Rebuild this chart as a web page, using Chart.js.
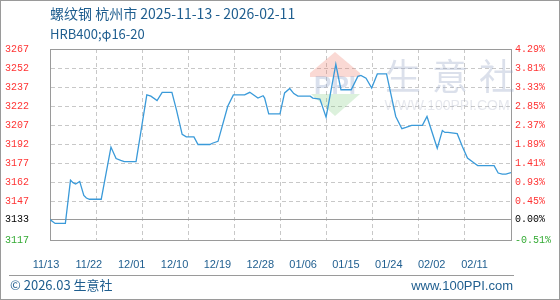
<!DOCTYPE html>
<html>
<head>
<meta charset="utf-8">
<script src="https://cdn.jsdelivr.net/npm/chart.js@4"></script>
<style>
html, body { margin: 0; padding: 0; background: #fff; }
#wrap { position: relative; width: 560px; height: 300px; overflow: hidden; font-family: "Noto Sans CJK SC", "Liberation Sans", sans-serif; }
#chart { position: absolute; left: 0; top: 0; }
#frame { position: absolute; left: 0; top: 0; width: 558px; height: 298px; border: 1px solid #9a9a9a; pointer-events: none; }
.t { position: absolute; color: #1f5e8f; white-space: nowrap; font-size: 13px; line-height: 16px; }
#title { left: 50px; top: 5px; font-size: 14px; }
#sub { left: 50px; top: 26px; }
#rule { position: absolute; left: 9px; top: 275px; width: 505px; height: 1px; background: #9a9a9a; }
#copy { left: 10px; top: 277px; }
#site { right: 47px; top: 278px; font-family: "Liberation Sans", sans-serif; }
</style>
</head>
<body>
<div id="wrap">
  <canvas id="chart" width="560" height="300"></canvas>
  <div class="t" id="title">螺纹钢 杭州市 2025-11-13 - 2026-02-11</div>
  <div class="t" id="sub">HRB400;φ16-20</div>
  <div id="rule"></div>
  <div class="t" id="copy">© 2026.03 生意社</div>
  <div class="t" id="site">www.100PPI.com</div>
  <div id="frame"></div>
</div>
<script>
// 価格データ (2025-11-13 からの日数, 元/吨)
const days = [0, 1, 3, 4, 4.5, 5, 5.8, 6.6, 7.1, 7.7,
  10, 11.9, 12.9, 13.8, 14.5, 16.8, 18.9, 19.7, 20.9, 21.9,
  23.8, 24.7, 25.8, 26.6, 28.1, 28.9, 31.2, 31.7, 32.8, 34.7,
  35.8, 38, 39, 40.6, 41.6, 41.9, 42.7, 44.9, 45.8, 46.8,
  47.6, 48.4, 50.8, 51.3, 52.7, 53.9, 55.8, 56.8, 58.8, 60.1,
  60.7, 61.7, 62.8, 63.9, 65.7, 67.5, 68.7, 69.5, 70.6, 72.7,
  73.6, 75.6, 76.6, 77.1, 77.7, 79.5, 80.5, 81.5, 82.8, 83.5,
  86.7, 87.5, 88.3, 89, 90];
const prices = [3133, 3130, 3130, 3164, 3162, 3161, 3163, 3152, 3150, 3149,
  3149, 3190, 3181, 3179.5, 3178.5, 3178.5, 3231, 3230, 3226.5, 3233,
  3233, 3219, 3200, 3198, 3198, 3192, 3192, 3193, 3194.5, 3222,
  3231, 3231, 3233, 3228.5, 3230.3, 3228.5, 3216, 3216, 3232.5, 3236,
  3232, 3230, 3230, 3228.5, 3227.7, 3213.5, 3255, 3235, 3235, 3245.5,
  3246.3, 3244, 3236.3, 3247.4, 3247.4, 3214, 3204.4, 3205.4, 3207, 3207,
  3214, 3189, 3203, 3201.5, 3201.5, 3200.5, 3190.5, 3181.4, 3177.5, 3175.4,
  3175.4, 3169.6, 3168.8, 3168.8, 3170];

// 軸の目盛り
const gridDays = [0, 9, 18, 27, 36, 45, 54, 63, 72, 81, 90];
const dateLabels = ['11/13', '11/22', '12/01', '12/10', '12/19', '12/28', '01/06', '01/15', '01/24', '02/02', '02/11'];
const priceTicks = [3117, 3133, 3147, 3162, 3177, 3192, 3207, 3222, 3237, 3252, 3267];
const pctLabels = ['-0.51%', '0.00%', '0.45%', '0.93%', '1.41%', '1.89%', '2.37%', '2.85%', '3.33%', '3.81%', '4.29%'];
const basePrice = 3133;

const tickColor = v => v < basePrice ? '#33aa33' : (v === basePrice ? '#000000' : '#ff3333');
const axisFont = { family: '"Liberation Mono", monospace', size: 10 };

// 背景のロゴ
const watermark = {
  id: 'watermark',
  beforeDatasetsDraw(chart) {
    const c = chart.ctx;
    c.save();
    c.fillStyle = 'rgba(236,120,100,0.28)';
    c.beginPath(); c.moveTo(335, 52); c.lineTo(360, 73); c.lineTo(360, 77); c.lineTo(310, 77); c.lineTo(310, 73); c.closePath(); c.fill();
    c.fillStyle = 'rgba(120,200,120,0.26)';
    c.beginPath(); c.moveTo(311, 94); c.lineTo(360, 94); c.lineTo(335, 116); c.closePath(); c.fill();
    c.textAlign = 'center';
    c.textBaseline = 'middle';
    c.fillStyle = 'rgba(140,160,200,0.33)';
    c.font = 'bold 26px "Liberation Sans"';
    c.fillText('PPI', 335, 87);
    c.fillStyle = 'rgba(150,165,195,0.34)';
    c.font = '36px "Noto Sans CJK SC"';
    ['生', '意', '社'].forEach((ch, i) => c.fillText(ch, 403 + i * 47, 76));
    c.fillStyle = 'rgba(160,170,190,0.28)';
    c.font = '14px "Liberation Sans"';
    c.fillText('WWW.100PPI.COM', 447, 106);
    c.restore();
  }
};

new Chart(document.getElementById('chart'), {
  type: 'line',
  data: {
    datasets: [{
      data: days.map((d, i) => ({ x: d, y: prices[i] })),
      borderColor: '#3a9ad9',
      borderWidth: 1.3,
      pointRadius: 0,
      tension: 0,
      fill: false,
      xAxisID: 'x',
      yAxisID: 'y'
    }]
  },
  options: {
    responsive: false,
    animation: false,
    layout: { padding: { left: 5, right: 0, top: 49, bottom: 0 } },
    plugins: { legend: { display: false }, tooltip: { enabled: false } },
    scales: {
      x: {
        type: 'linear', position: 'bottom', weight: 0, min: 0, max: 90,
        afterBuildTicks: s => { s.ticks = gridDays.map(v => ({ value: v })); },
        afterFit: s => { s.height = 0; },
        ticks: { display: false },
        grid: {
          drawTicks: false,
          color: ctx => (ctx.tick && (ctx.tick.value === 0 || ctx.tick.value === 90)) ? 'rgba(0,0,0,0)' : '#c8c8c8'
        },
        border: { display: true, color: '#9a9a9a', width: 1, dash: ctx => ctx.type === 'tick' ? [4, 3] : [] }
      },
      xl: {
        type: 'linear', position: 'bottom', weight: 1, min: -1 / 42.85, max: 460 / 42.85,
        afterBuildTicks: s => { s.ticks = dateLabels.map((_, i) => ({ value: i })); },
        afterFit: s => { s.height = 60; },
        grid: { display: false },
        border: { display: false },
        ticks: {
          autoSkip: false, maxRotation: 0, labelOffset: -5, padding: 10,
          color: '#1f5e8f', font: { family: '"Liberation Sans", sans-serif', size: 11 },
          callback: (v, i) => dateLabels[i]
        }
      },
      y: {
        type: 'linear', position: 'left', min: 3117, max: 3267,
        afterBuildTicks: s => { s.ticks = priceTicks.map(v => ({ value: v })); },
        afterFit: s => { s.width = 45; },
        ticks: {
          crossAlign: 'far', font: axisFont,
          color: ctx => tickColor(ctx.tick.value),
          callback: v => String(v)
        },
        grid: {
          drawTicks: false,
          color: ctx => {
            if (!ctx.tick) return '#c8c8c8';
            const v = ctx.tick.value;
            if (v === 3117) return 'rgba(0,0,0,0)';
            if (v === basePrice || v === 3267) return '#9a9a9a';
            return '#c8c8c8';
          }
        },
        border: {
          display: true, color: '#9a9a9a', width: 1,
          dash: ctx => (ctx.type === 'tick' && ctx.tick.value !== basePrice && ctx.tick.value !== 3267) ? [4, 3] : []
        }
      },
      y2: {
        type: 'linear', position: 'right', min: 3117, max: 3267,
        afterBuildTicks: s => { s.ticks = priceTicks.map(v => ({ value: v })); },
        afterFit: s => { s.width = 49; },
        ticks: {
          padding: 4, font: axisFont,
          color: ctx => tickColor(ctx.tick.value),
          callback: (v, i) => pctLabels[i]
        },
        grid: { display: false, drawTicks: false },
        border: { display: true, color: '#9a9a9a', width: 1 }
      }
    }
  },
  plugins: [watermark]
});
</script>
</body>
</html>
